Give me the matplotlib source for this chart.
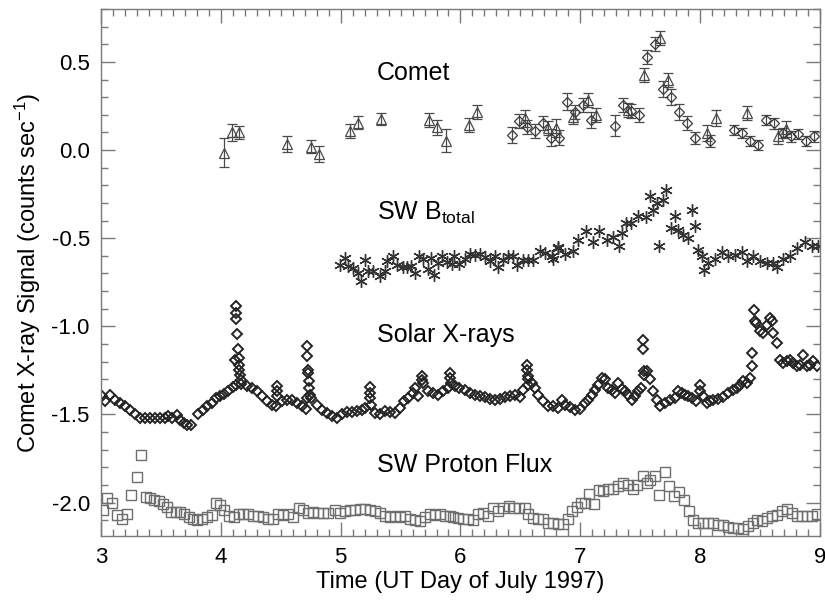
import numpy as np
import matplotlib
matplotlib.use('Agg')
import matplotlib.pyplot as plt
from matplotlib.ticker import MultipleLocator

plt.rcParams['font.family'] = ['Liberation Sans', 'DejaVu Sans']
plt.rcParams['mathtext.default'] = 'regular'

# comet signal, triangles (time, value, error)
tri_t = [4.026, 4.09, 4.155, 4.55, 4.75, 4.817, 5.078, 5.147, 5.34, 5.74, 5.80,
         5.877, 6.07, 6.138, 6.54, 6.733, 6.80, 6.94, 7.067, 7.13, 7.397, 7.53,
         7.665, 7.73, 8.06, 8.13, 8.39, 8.652, 8.714]
tri_v = [-0.014, 0.10, 0.10, 0.035, 0.02, -0.023, 0.109, 0.156, 0.175, 0.171, 0.128,
         0.052, 0.143, 0.215, 0.18, 0.124, 0.124, 0.187, 0.285, 0.20, 0.228, 0.426,
         0.634, 0.398, 0.099, 0.181, 0.209, 0.077, 0.118]
tri_e = [0.08, 0.05, 0.035, 0.045, 0.035, 0.045, 0.04, 0.035, 0.035, 0.04, 0.045,
         0.065, 0.04, 0.04, 0.05, 0.04, 0.05, 0.04, 0.04, 0.04, 0.04, 0.04,
         0.04, 0.04, 0.045, 0.045, 0.04, 0.045, 0.045]

# comet signal, diamonds (time, value, error)
dia_t = [6.427, 6.49, 6.557, 6.62, 6.686, 6.753, 6.82, 6.89, 6.955, 7.02, 7.087,
         7.29, 7.355, 7.42, 7.49, 7.554, 7.62, 7.688, 7.754, 7.823, 7.888, 7.957,
         8.082, 8.283, 8.352, 8.416, 8.485, 8.55, 8.616, 8.69, 8.756, 8.82, 8.883,
         8.95]
dia_v = [0.086, 0.167, 0.13, 0.109, 0.152, 0.071, 0.071, 0.275, 0.218, 0.256, 0.171,
         0.139, 0.256, 0.222, 0.20, 0.53, 0.602, 0.345, 0.30, 0.218, 0.156, 0.067,
         0.052, 0.114, 0.096, 0.052, 0.029, 0.171, 0.152, 0.096, 0.077, 0.09, 0.052,
         0.077]
dia_e = [0.045, 0.04, 0.04, 0.04, 0.04, 0.05, 0.04, 0.05, 0.04, 0.04, 0.045,
         0.06, 0.04, 0.04, 0.04, 0.04, 0.04, 0.045, 0.045, 0.045, 0.04, 0.035,
         0.035, 0.03, 0.03, 0.03, 0.03, 0.03, 0.03, 0.03, 0.03, 0.03, 0.03,
         0.03]

# solar wind magnetic field (offset)
bt_t = [4.995, 5.036, 5.064, 5.105, 5.147, 5.167, 5.203, 5.23, 5.273, 5.328,
        5.37, 5.39, 5.434, 5.473, 5.518, 5.55, 5.584, 5.62, 5.656, 5.69,
        5.726, 5.751, 5.78, 5.815, 5.843, 5.885, 5.927, 5.946, 5.99, 6.038,
        6.08, 6.12, 6.163, 6.205, 6.246, 6.288, 6.316, 6.357, 6.40, 6.44,
        6.474, 6.519, 6.566, 6.608, 6.664, 6.705, 6.76, 6.81, 6.775, 6.817,
        6.872, 6.94, 6.983, 7.05, 7.11, 7.158, 7.22, 7.275, 7.32, 7.35,
        7.38, 7.42, 7.48, 7.548, 7.58, 7.61, 7.637, 7.66, 7.687, 7.715,
        7.754, 7.79, 7.818, 7.86, 7.90, 7.93, 7.957, 7.985, 8.013, 8.035,
        8.068, 8.124, 8.18, 8.235, 8.29, 8.347, 8.39, 8.443, 8.50, 8.555,
        8.61, 8.644, 8.694, 8.75, 8.806, 8.875, 8.93, 8.986]
bt_v = [-0.651, -0.613, -0.656, -0.669, -0.698, -0.745, -0.622, -0.689, -0.689, -0.717,
        -0.689, -0.632, -0.604, -0.651, -0.664, -0.664, -0.656, -0.698, -0.604, -0.618,
        -0.675, -0.613, -0.707, -0.641, -0.604, -0.638, -0.645, -0.60, -0.645, -0.618,
        -0.588, -0.594, -0.588, -0.607, -0.632, -0.604, -0.664, -0.622, -0.604, -0.604,
        -0.651, -0.622, -0.626, -0.622, -0.575, -0.585, -0.604, -0.551, -0.617, -0.556,
        -0.590, -0.575, -0.509, -0.462, -0.519, -0.462, -0.509, -0.494, -0.543, -0.468,
        -0.414, -0.414, -0.373, -0.381, -0.26, -0.339, -0.301, -0.543, -0.286, -0.226,
        -0.443, -0.377, -0.452, -0.48, -0.50, -0.339, -0.43, -0.57, -0.60, -0.679,
        -0.641, -0.617, -0.579, -0.604, -0.594, -0.581, -0.628, -0.604, -0.632, -0.641,
        -0.641, -0.664, -0.617, -0.604, -0.556, -0.519, -0.543, -0.547]

# solar X-ray flux (offset)
xr_t = [3.006, 3.034, 3.075, 3.117, 3.159, 3.2, 3.242, 3.284, 3.325, 3.367,
        3.409, 3.45, 3.492, 3.534, 3.562, 3.59, 3.631, 3.659, 3.692, 3.72,
        3.748, 3.812, 3.848, 3.887, 3.923, 3.96, 3.993, 4.027, 4.062, 4.099,
        4.126, 4.13, 4.126, 4.124, 4.136, 4.14, 4.122, 4.148, 4.15, 4.155,
        4.16, 4.166, 4.172, 4.216, 4.257, 4.299, 4.341, 4.383, 4.424, 4.46,
        4.466, 4.466, 4.468, 4.507, 4.549, 4.591, 4.633, 4.675, 4.711, 4.72,
        4.722, 4.728, 4.73, 4.735, 4.74, 4.745, 4.718, 4.75, 4.8, 4.841,
        4.883, 4.925, 4.966, 5.008, 5.05, 5.091, 5.133, 5.175, 5.203, 5.245,
        5.245, 5.248, 5.25, 5.286, 5.328, 5.369, 5.411, 5.453, 5.494, 5.528,
        5.564, 5.6, 5.62, 5.648, 5.68, 5.683, 5.69, 5.731, 5.773, 5.815,
        5.856, 5.898, 5.912, 5.915, 5.92, 5.954, 5.99, 6.038, 6.079, 6.121,
        6.163, 6.204, 6.246, 6.288, 6.33, 6.371, 6.413, 6.455, 6.497, 6.524,
        6.553, 6.556, 6.56, 6.563, 6.566, 6.594, 6.622, 6.65, 6.691, 6.733,
        6.775, 6.816, 6.844, 6.872, 6.914, 6.956, 6.997, 7.039, 7.067, 7.095,
        7.123, 7.15, 7.178, 7.206, 7.234, 7.262, 7.29, 7.317, 7.345, 7.373,
        7.401, 7.429, 7.456, 7.484, 7.504, 7.526, 7.526, 7.53, 7.535, 7.554,
        7.582, 7.609, 7.637, 7.665, 7.707, 7.748, 7.79, 7.818, 7.846, 7.874,
        7.901, 7.929, 7.965, 7.999, 7.999, 8.027, 8.055, 8.082, 8.11, 8.152,
        8.194, 8.235, 8.277, 8.305, 8.333, 8.36, 8.388, 8.416, 8.43, 8.43,
        8.45, 8.458, 8.47, 8.5, 8.527, 8.555, 8.583, 8.597, 8.61, 8.639,
        8.666, 8.694, 8.722, 8.75, 8.778, 8.805, 8.833, 8.861, 8.889, 8.917,
        8.945, 8.972]
xr_v = [-1.397, -1.426, -1.392, -1.416, -1.435, -1.454, -1.473, -1.497, -1.52, -1.52,
        -1.52, -1.52, -1.52, -1.52, -1.51, -1.52, -1.501, -1.53, -1.548, -1.558,
        -1.558, -1.497, -1.473, -1.454, -1.435, -1.407, -1.397, -1.384, -1.369, -1.346,
        -1.331, -0.887, -0.925, -0.957, -1.044, -1.13, -1.19, -1.18, -1.218, -1.246,
        -1.274, -1.303, -1.327, -1.341, -1.35, -1.369, -1.397, -1.426, -1.444, -1.454,
        -1.341, -1.369, -1.397, -1.426, -1.416, -1.416, -1.435, -1.454, -1.467, -1.114,
        -1.17, -1.246, -1.265, -1.312, -1.35, -1.388, -1.407, -1.407, -1.444, -1.473,
        -1.492, -1.51, -1.52, -1.497, -1.486, -1.486, -1.482, -1.473, -1.463, -1.346,
        -1.378, -1.407, -1.444, -1.492, -1.497, -1.482, -1.486, -1.492, -1.463, -1.426,
        -1.407, -1.378, -1.35, -1.397, -1.284, -1.303, -1.322, -1.369, -1.378, -1.388,
        -1.369, -1.35, -1.265, -1.293, -1.322, -1.341, -1.35, -1.363, -1.378, -1.388,
        -1.393, -1.401, -1.412, -1.416, -1.412, -1.401, -1.393, -1.391, -1.401, -1.359,
        -1.221, -1.246, -1.284, -1.302, -1.331, -1.321, -1.35, -1.388, -1.425, -1.45,
        -1.454, -1.463, -1.416, -1.444, -1.457, -1.473, -1.469, -1.435, -1.416, -1.388,
        -1.359, -1.331, -1.293, -1.302, -1.35, -1.359, -1.378, -1.321, -1.355, -1.369,
        -1.388, -1.416, -1.397, -1.369, -1.35, -1.08, -1.129, -1.255, -1.274, -1.255,
        -1.302, -1.369, -1.416, -1.45, -1.435, -1.416, -1.406, -1.369, -1.378, -1.388,
        -1.397, -1.406, -1.425, -1.331, -1.369, -1.397, -1.435, -1.425, -1.416, -1.412,
        -1.401, -1.378, -1.363, -1.35, -1.331, -1.312, -1.321, -1.293, -1.227, -1.151,
        -0.909, -0.972, -0.981, -1.029, -1.038, -0.991, -0.953, -0.972, -1.038, -1.095,
        -1.189, -1.208, -1.199, -1.189, -1.208, -1.227, -1.217, -1.161, -1.227, -1.217,
        -1.199, -1.227]

# solar wind proton flux (offset)
pf_t = [3.014, 3.047, 3.089, 3.131, 3.173, 3.214, 3.25, 3.298, 3.334, 3.376,
        3.409, 3.445, 3.484, 3.52, 3.553, 3.584, 3.626, 3.659, 3.695, 3.734,
        3.77, 3.804, 3.84, 3.882, 3.924, 3.957, 3.993, 4.029, 4.071, 4.11,
        4.152, 4.188, 4.229, 4.271, 4.313, 4.355, 4.396, 4.438, 4.48, 4.521,
        4.563, 4.60, 4.655, 4.688, 4.73, 4.772, 4.813, 4.855, 4.897, 4.953,
        4.995, 5.036, 5.078, 5.12, 5.161, 5.203, 5.245, 5.287, 5.328, 5.37,
        5.412, 5.453, 5.495, 5.537, 5.579, 5.62, 5.662, 5.704, 5.746, 5.787,
        5.829, 5.871, 5.912, 5.94, 5.982, 6.023, 6.065, 6.107, 6.149, 6.19,
        6.232, 6.274, 6.316, 6.357, 6.405, 6.447, 6.488, 6.538, 6.566, 6.608,
        6.649, 6.691, 6.733, 6.775, 6.817, 6.858, 6.895, 6.933, 6.97, 7.006,
        7.039, 7.075, 7.114, 7.156, 7.192, 7.234, 7.275, 7.317, 7.359, 7.395,
        7.437, 7.475, 7.52, 7.554, 7.58, 7.623, 7.659, 7.707, 7.743, 7.782,
        7.826, 7.868, 7.907, 7.943, 7.985, 8.026, 8.068, 8.11, 8.151, 8.193,
        8.235, 8.277, 8.318, 8.36, 8.397, 8.438, 8.472, 8.514, 8.555, 8.597,
        8.639, 8.68, 8.722, 8.764, 8.806, 8.847, 8.889, 8.931, 8.972]
pf_v = [-2.04, -1.977, -2.002, -2.072, -2.091, -2.064, -1.959, -1.854, -1.732, -1.968,
        -1.977, -1.983, -1.993, -2.011, -2.024, -2.055, -2.055, -2.055, -2.064, -2.083,
        -2.096, -2.10, -2.092, -2.081, -2.072, -2.002, -2.015, -2.04, -2.078, -2.081,
        -2.064, -2.068, -2.068, -2.078, -2.078, -2.083, -2.092, -2.092, -2.068, -2.072,
        -2.064, -2.083, -2.03, -2.04, -2.059, -2.055, -2.062, -2.059, -2.062, -2.044,
        -2.059, -2.05, -2.04, -2.04, -2.036, -2.036, -2.04, -2.05, -2.059, -2.078,
        -2.081, -2.078, -2.081, -2.078, -2.092, -2.10, -2.106, -2.081, -2.064, -2.072,
        -2.068, -2.078, -2.074, -2.083, -2.087, -2.091, -2.092, -2.102, -2.068, -2.062,
        -2.078, -2.034, -2.05, -2.03, -2.021, -2.03, -2.03, -2.034, -2.068, -2.087,
        -2.091, -2.096, -2.115, -2.119, -2.121, -2.121, -2.091, -2.05, -2.025, -2.002,
        -2.002, -1.949, -2.006, -1.93, -1.936, -1.926, -1.926, -1.907, -1.888, -1.902,
        -1.926, -1.902, -1.851, -1.888, -1.875, -1.851, -1.955, -1.828, -1.907, -1.964,
        -1.942, -1.987, -2.05, -2.102, -2.115, -2.119, -2.115, -2.119, -2.13, -2.125,
        -2.138, -2.143, -2.143, -2.149, -2.134, -2.115, -2.10, -2.106, -2.087, -2.078,
        -2.072, -2.05, -2.036, -2.059, -2.078, -2.078, -2.078, -2.074, -2.068]

fig = plt.figure(figsize=(8.25, 6.04), dpi=100)
ax = fig.add_axes([0.1224, 0.1126, 0.8715, 0.8724])

ax.plot(pf_t, pf_v, ls='none', marker='s', ms=6.5, mfc='none', mec='#6e6e6e', mew=1.0)
ax.plot(xr_t, xr_v, ls='none', marker='D', ms=5.2, mfc='none', mec='#242424', mew=1.4)
ax.plot(bt_t, bt_v, ls='none', marker=(6, 2, 0), ms=9, mec='#333333', mew=1.0)

ax.errorbar(tri_t, tri_v, yerr=tri_e, fmt='^', ms=7, mfc='none', mec='#4a4a4a', mew=0.9,
            ecolor='#4a4a4a', elinewidth=0.9, capsize=3.5, capthick=0.9)
ax.errorbar(dia_t, dia_v, yerr=dia_e, fmt='D', ms=5, mfc='none', mec='#3a3a3a', mew=0.9,
            ecolor='#4a4a4a', elinewidth=0.9, capsize=3.5, capthick=0.9)

ax.text(5.3, 0.44, 'Comet', fontsize=18, va='center')
ax.text(5.3, -0.355, 'SW B$_{total}$', fontsize=18, va='center')
ax.text(5.3, -1.047, 'Solar X-rays', fontsize=18, va='center')
ax.text(5.3, -1.785, 'SW Proton Flux', fontsize=18, va='center')

ax.set_xlim(3, 9)
ax.set_ylim(-2.19, 0.80)
ax.xaxis.set_major_locator(MultipleLocator(1))
ax.xaxis.set_minor_locator(MultipleLocator(0.1))
ax.yaxis.set_major_locator(MultipleLocator(0.5))
ax.yaxis.set_minor_locator(MultipleLocator(0.1))
ax.yaxis.set_major_formatter(plt.FormatStrFormatter('%.1f'))

for s in ax.spines.values():
    s.set_color('#7a7a7a')
    s.set_linewidth(1.0)
ax.tick_params(which='both', direction='in', top=True, right=True, color='#7a7a7a',
               labelsize=16, width=1.0)
ax.tick_params(which='major', length=10, pad=8)
ax.tick_params(which='minor', length=5)

ax.set_xlabel('Time (UT Day of July 1997)', fontsize=17, labelpad=2)
ax.set_ylabel('Comet X-ray Signal (counts sec$^{-1}$)', fontsize=17, labelpad=6)

fig.savefig('out.png', dpi=100)
